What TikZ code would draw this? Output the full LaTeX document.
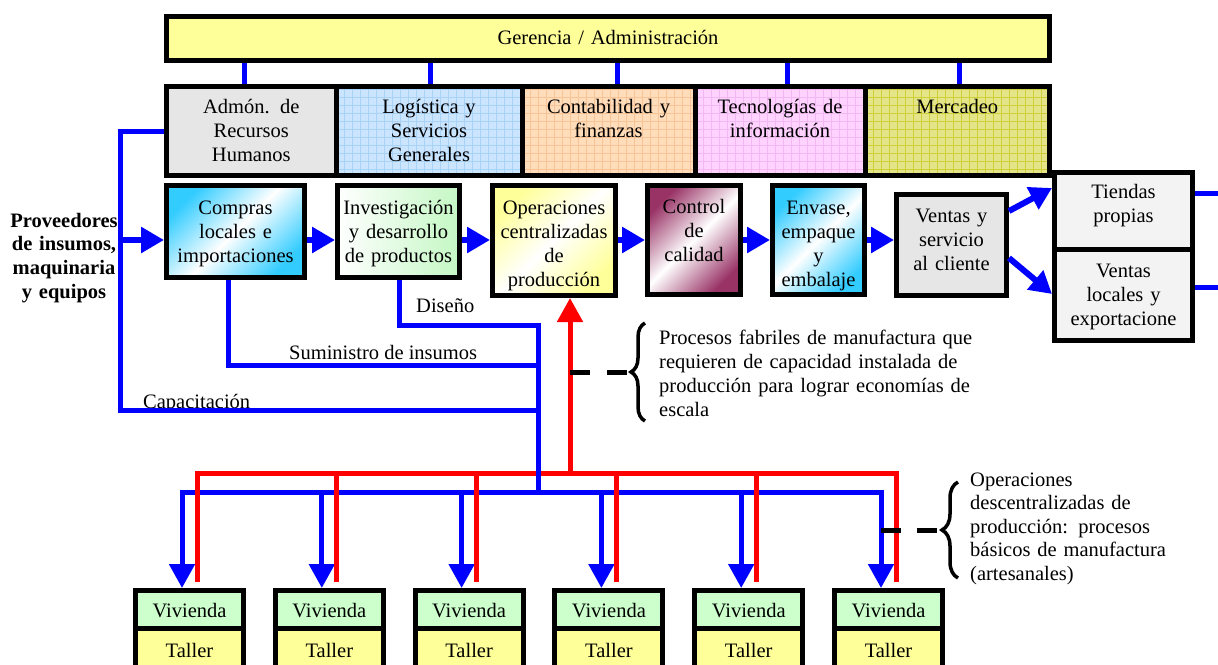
\documentclass[tikz,border=0pt]{standalone}
\usepackage{fontspec}
\setmainfont{Liberation Serif}
\usetikzlibrary{arrows.meta,decorations.pathreplacing}
\hyphenpenalty=10000
\exhyphenpenalty=10000
\definecolor{gerY}{HTML}{FFFF99}
\definecolor{grayA}{HTML}{E6E6E6}
\definecolor{logB}{HTML}{CCE5FF}
\definecolor{logG}{HTML}{A9D2F7}
\definecolor{conO}{HTML}{FFDCBA}
\definecolor{conG}{HTML}{F7C497}
\definecolor{tecP}{HTML}{FFD2FF}
\definecolor{tecG}{HTML}{F2B8F2}
\definecolor{merY}{HTML}{E4E488}
\definecolor{merG}{HTML}{CFCF3A}
\definecolor{cyanA}{HTML}{33CCFF}
\definecolor{grnA}{HTML}{C4F7C4}
\definecolor{yelA}{HTML}{FFFF99}
\definecolor{marA}{HTML}{993366}
\definecolor{tieG}{HTML}{F3F3F3}
\definecolor{vivG}{HTML}{CCFFCC}
\definecolor{talY}{HTML}{FFFF99}
\definecolor{bluA}{HTML}{0000FF}
\definecolor{redA}{HTML}{FF0000}
\begin{document}
\begin{tikzpicture}[x=1pt,y=-1pt,
  txt/.style={font=\fontsize{20.5}{24}\selectfont, inner sep=0pt},
  bx/.style={txt, draw=black, line width=5pt, align=center, anchor=north},
  bl/.style={draw=bluA, line width=5pt},
  rd/.style={draw=redA, line width=5pt},
  arr/.style={-{Triangle[length=24pt,width=25pt]}},
  parr/.style={draw=bluA, line width=6pt, -{Triangle[length=23pt,width=25pt]}},
  varr/.style={draw=bluA, line width=6pt, -{Triangle[length=22pt,width=24pt]}},
  dsh/.style={draw=black, line width=5pt, dash pattern=on 20pt off 17pt},
  brc/.style={draw=black, line width=3.5pt, decorate, decoration={brace, amplitude=#1}},
  gridfill/.style={path picture={\draw[#1, line width=0.7pt, step=8pt] (path picture bounding box.south west) grid (path picture bounding box.north east);}},
  diag/.style={top color=#1, bottom color=#1, middle color=white, shading angle=45}
]
\useasboundingbox (0,0) rectangle (1218,664);
\clip (0,0) rectangle (1218,664);

% ---- top management
\node[bx, fill=gerY, text width=883pt, text height=27.5pt, text depth=16.5pt] (ger) at (608,14) {Gerencia / Administración};

% ---- departments
\node[bx, fill=grayA, text width=169.5pt, text height=26.5pt, text depth=62.5pt] (adm) at (251.25,84) {Admón. de\\Recursos\\Humanos};
\node[bx, fill=logB, gridfill=logG, text width=186pt, text height=26.5pt, text depth=62.5pt] (log) at (429,84) {Logística y\\Servicios\\Generales};
\node[bx, fill=conO, gridfill=conG, text width=173pt, text height=26.5pt, text depth=62.5pt] (con) at (608.5,84) {Contabilidad y\\finanzas};
\node[bx, fill=tecP, gridfill=tecG, text width=170pt, text height=26.5pt, text depth=62.5pt] (tec) at (780,84) {Tecnologías de\\información};
\node[bx, fill=merY, gridfill=merG, text width=184.5pt, text height=26.5pt, text depth=62.5pt] (mer) at (957.25,84) {Mercadeo};

% ---- process chain
\node[bx, diag=cyanA, text width=138pt, text height=28.5pt, text depth=63.5pt] (com) at (235.5,183) {Compras\\locales e\\importaciones};
\node[bx, left color=white, right color=grnA, text width=122pt, text height=28.5pt, text depth=63.5pt] (inv) at (398.5,183) {Investigación\\y desarrollo\\de productos};
\node[bx, diag=yelA, text width=123pt, text height=28.5pt, text depth=81.5pt] (ope) at (554,183) {Operaciones\\centralizadas\\de\\producción};
\node[bx, diag=marA, text width=93pt, text height=28pt, text depth=81pt] (ctl) at (694,183) {Control\\de\\calidad};
\node[bx, diag=cyanA, text width=92pt, text height=28.5pt, text depth=80.5pt] (env) at (818.5,183) {Envase,\\empaque\\y\\embalaje};
\node[bx, fill=grayA, text width=110pt, text height=27.5pt, text depth=73.5pt] (ven) at (951.5,192) {Ventas y\\servicio\\al cliente};
\node[bx, fill=tieG, text width=138pt, text height=25.5pt, text depth=51pt] (tie) at (1123.5,170) {Tiendas\\propias};
\node[bx, fill=tieG, text width=138pt, text height=28pt, text depth=63.5pt] (vlo) at (1123.5,246.5) {Ventas\\locales y\\exportacione};

% ---- workshops
\foreach \i in {0,...,5}{
  \pgfmathsetmacro\cx{189.5+139.8*\i}
  \node[bx, fill=vivG, text width=108pt, text height=26.5pt, text depth=11pt] (viv\i) at (\cx,588) {Vivienda};
  \node[bx, fill=talY, text width=108pt, text height=29pt, text depth=40.5pt] (tal\i) at (\cx,625.5) {Taller};
  \coordinate (bx\i) at (\cx-7.5,0);
  \coordinate (rx\i) at (\cx+7.5,0);
}

% ---- free texts
\node[txt, font=\fontsize{20.5}{23.7}\selectfont\bfseries, text width=120pt, align=center, anchor=base] (prov) at (64,227) {Proveedores\\de insumos,\\maquinaria\\y equipos};
\node[txt, anchor=base west] (dis) at (416,312) {Diseño};
\node[txt, anchor=base west] (sum) at (289,359) {Suministro de insumos};
\node[txt, anchor=base west] (capt) at (143,408) {Capacitación};
\node[txt, text width=340pt, align=left, anchor=base west] (pf) at (659,344) {Procesos fabriles de manufactura que\\requieren de capacidad instalada de\\producción para lograr economías de\\escala};
\node[txt, font=\fontsize{20.5}{23.6}\selectfont, text width=245pt, align=left, anchor=base west] (od) at (970,486) {Operaciones\\descentralizadas de\\producción: procesos\\básicos de manufactura\\(artesanales)};

% ---- helper coordinates
\coordinate (ay) at (0,240);
\coordinate (hrx) at (120,0);
\coordinate (capc) at (120,410);
\coordinate (jx) at (538,0);
\coordinate (sx) at (228,0);
\coordinate (sy) at (0,365);
\coordinate (dx) at (399,0);
\coordinate (dy) at (0,325);
\coordinate (bby) at (0,492);
\coordinate (ry) at (0,473);
\coordinate (re) at (0,582);
\coordinate (ux) at (570,0);

% ---- management stubs
\foreach \x/\n in {244/adm,430/log,617/con,787/tec,959/mer}{
  \coordinate (st) at (\x,0);
  \draw[bl] (ger.south -| st) -- (\n.north -| st);
}

% ---- process arrows
\draw[parr] (hrx |- ay) -- (com.west |- ay);
\draw[parr] (com.east |- ay) -- (inv.west |- ay);
\draw[parr] (inv.east |- ay) -- (ope.west |- ay);
\draw[parr] (ope.east |- ay) -- (ctl.west |- ay);
\draw[parr] (ctl.east |- ay) -- (env.west |- ay);
\draw[parr] (env.east |- ay) -- (ven.west |- ay);
\coordinate (va1) at (1009,211); \coordinate (vb1) at (1052,188);
\coordinate (va2) at (1009,258); \coordinate (vb2) at (1052,294);
\draw[varr] (ven.east |- va1) -- (tie.west |- vb1);
\draw[varr] (ven.east |- va2) -- (vlo.west |- vb2);
\coordinate (rs1) at (1230,193);
\coordinate (rs2) at (1230,287);
\draw[bl] (tie.east |- rs1) -- (rs1);
\draw[bl] (vlo.east |- rs2) -- (rs2);

% ---- red bus
\draw[rd, line cap=rect] (rx0 |- ry) -- (rx5 |- ry);
\draw[rd, arr] (ux |- ry) -- (ope.south -| ux);

% ---- blue support lines
\draw[bl] (adm.west) -| (capc) -- (capc -| jx);
\draw[bl] (com.south -| sx) |- (jx |- sy);
\draw[bl] (inv.south -| dx) |- (jx |- dy) -- (jx |- bby);
\draw[bl, arr] (jx |- bby) -| (viv0.north -| bx0);
\draw[bl, arr] (jx |- bby) -| (viv5.north -| bx5);
\foreach \i in {1,...,4}{
  \draw[bl, arr] (bx\i |- bby) -- (viv\i.north -| bx\i);
}

% ---- red drops
\foreach \i in {0,...,5}{
  \draw[rd] (rx\i |- ry) -- (rx\i |- re);
}

% ---- braces
\coordinate (d1) at (570,372); \coordinate (t1) at (629,372);
\coordinate (b1bot) at (645,421); \coordinate (b1top) at (645,323);
\draw[dsh] (ux |- d1) -- (t1);
\draw[brc=14pt] (b1bot) -- (b1top);
\coordinate (d2) at (881,530); \coordinate (t2) at (939,530);
\coordinate (b2bot) at (958,578); \coordinate (b2top) at (958,482);
\draw[dsh, dash pattern=on 20pt off 16pt] (d2) -- (t2);
\draw[brc=16pt] (b2bot) -- (b2top);
\end{tikzpicture}
\end{document}
